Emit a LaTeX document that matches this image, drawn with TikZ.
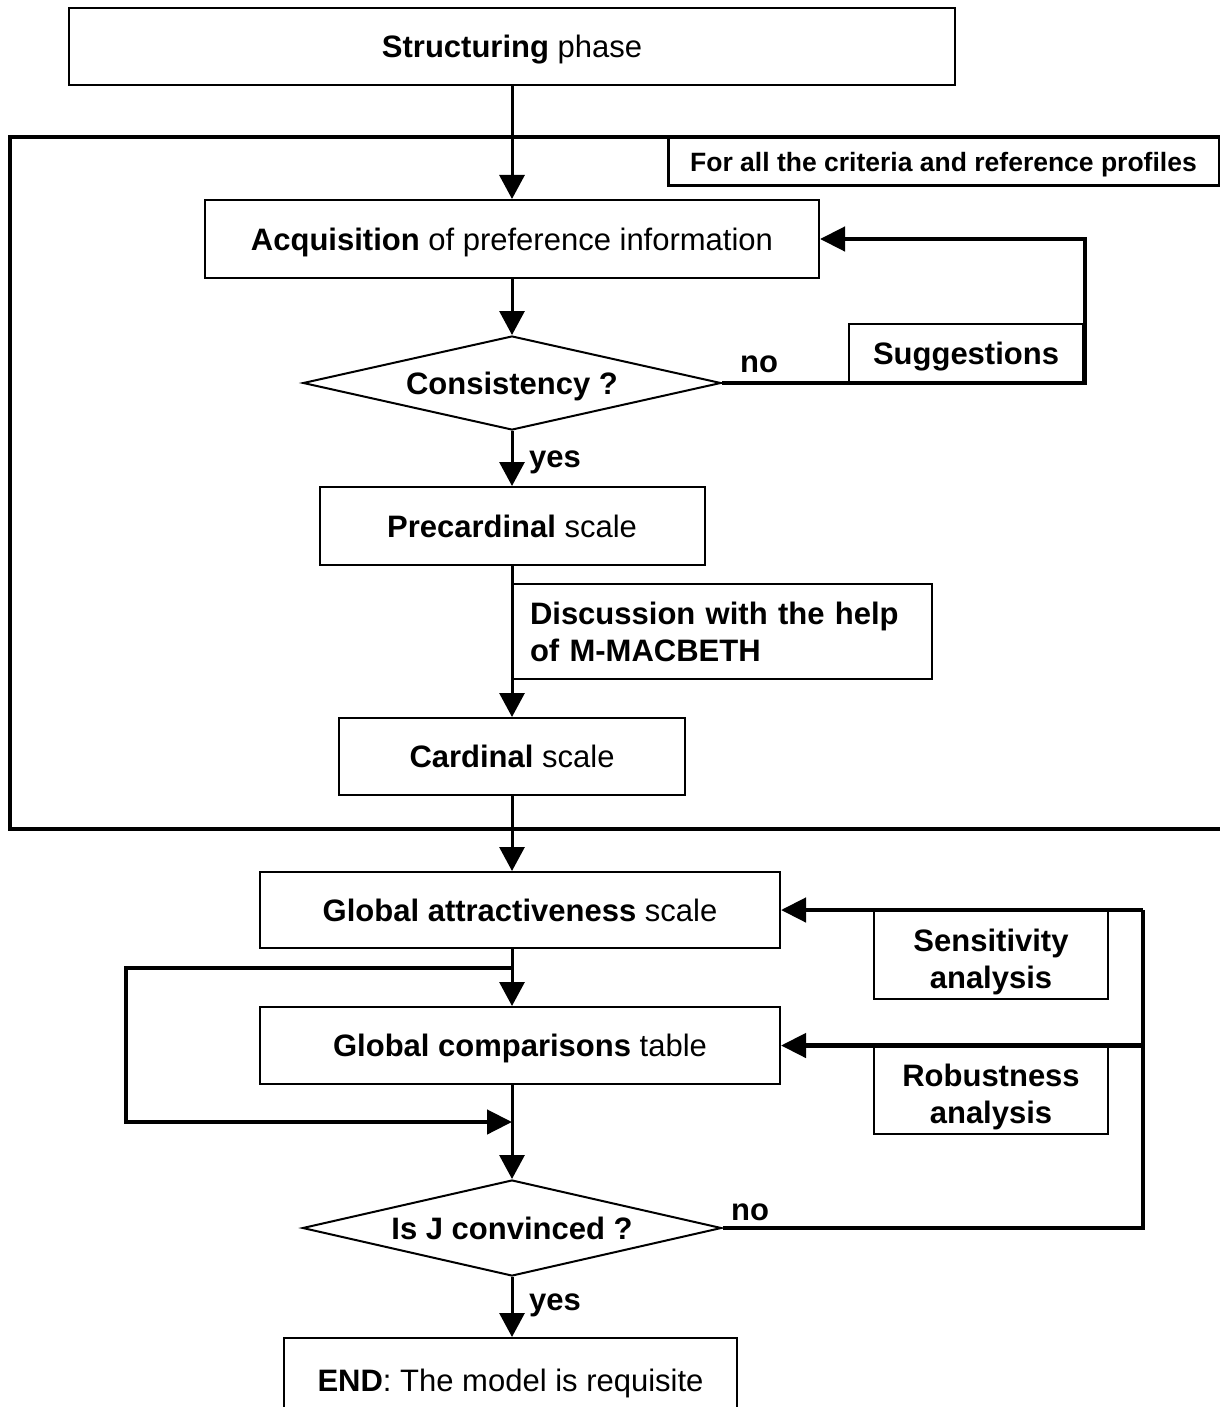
\documentclass[tikz,border=0pt]{standalone}
\usepackage{fontspec}
\setmainfont{Liberation Sans}
\usetikzlibrary{arrows.meta,shapes.geometric}
\tikzset{
  base/.style={draw, line width=2pt, inner sep=0pt, align=center, font=\fontsize{31}{37}\selectfont},
  box/.style={base, text depth=0pt},
  boldbox/.style={box, font=\fontsize{31}{37}\selectfont\bfseries},
  textbox/.style={base, font=\fontsize{31}{37}\selectfont\bfseries},
  dec/.style={draw, diamond, line width=2pt, inner sep=0pt, aspect=4.4, text depth=0pt, font=\fontsize{31}{37}\selectfont\bfseries},
  lab/.style={inner sep=0pt, font=\fontsize{31}{37}\selectfont\bfseries},
  flow/.style={line width=3pt, -{Triangle[length=24pt,width=25pt]}},
  fb/.style={line width=4.5pt},
  fbarr/.style={fb, -{Triangle[length=25pt,width=24pt]}},
}

\begin{document}
\begin{tikzpicture}[x=1pt, y=-1pt]
\useasboundingbox (0,0) rectangle (1219,1407);
\fill[white] (0,0) rectangle (1219,1407);

\node[box, minimum width=886pt, minimum height=77pt] (struct) at (512,46.5) {\textbf{Structuring} phase};
\draw[fb] (10,137) rectangle (1228,829);
\node[boldbox, line width=3pt, font=\fontsize{26.5}{30}\selectfont\bfseries, minimum width=551pt, minimum height=49pt] (crit) at (943.5,161.5) {For all the criteria and reference profiles};

\node[box, minimum width=614pt, minimum height=78pt] (acq) at (512,239) {\textbf{Acquisition} of preference information};
\node[dec, minimum width=418pt, minimum height=94pt] (cons) at (512,383) {Consistency ?};
\node[boldbox, minimum width=234pt, minimum height=59pt] (sugg) at (966,353.5) {Suggestions};
\node[box, minimum width=385pt, minimum height=78pt] (pre) at (512,526) {\textbf{Precardinal} scale};
\node[textbox, anchor=west, align=left, text width=385pt, inner xsep=17pt, minimum width=419pt, minimum height=95pt] (disc) at (512,631.5) {Discussion with the help\\of M-MACBETH};
\node[box, minimum width=346pt, minimum height=77pt] (card) at (512,756.5) {\textbf{Cardinal} scale};

\node[box, minimum width=520pt, minimum height=76pt] (ga) at (520,910) {\textbf{Global attractiveness} scale};
\node[textbox, minimum width=234pt, minimum height=89pt] (sens) at (991,954.5) {\rule{0pt}{37pt}Sensitivity\\analysis};
\node[box, minimum width=520pt, minimum height=77pt] (gc) at (520,1045.5) {\textbf{Global comparisons} table};
\node[textbox, minimum width=234pt, minimum height=88pt] (rob) at (991,1090) {\rule{0pt}{37pt}Robustness\\analysis};
\node[dec, minimum width=419pt, minimum height=96pt] (isj) at (512,1228) {Is J convinced ?};
\node[box, minimum width=453pt, minimum height=84pt] (end) at (510.5,1380) {\textbf{END}: The model is requisite};

\node[lab, anchor=west] (no1) at (740,364) {no};
\node[lab, anchor=west] (yes1) at (529,462) {yes};
\node[lab, anchor=west] (no2) at (731,1212) {no};
\node[lab, anchor=west] (yes2) at (529,1305) {yes};

\coordinate (cA) at (1085,239);
\coordinate (cR1) at (1143,910);
\coordinate (cR2) at (1143,1045.5);
\coordinate (split) at (512,968);
\coordinate (cL) at (126,968);
\coordinate (join) at (512,1122);

\draw[flow] (struct.south) -- (acq.north);
\draw[flow] (acq.south) -- (cons.north);
\draw[flow] (cons.south) -- (pre.north);
\draw[flow] (pre.south) -- (card.north);
\draw[flow] (card.south) -- (card.south |- ga.north);
\draw[flow] (ga.south -| card.south) -- (card.south |- gc.north);
\draw[flow] (gc.south -| card.south) -- (isj.north);
\draw[flow] (isj.south) -- (end.north -| isj.south);

\draw[fbarr] (cons.east) -| (cA) -- (acq.east);
\draw[fb] (isj.east) -| (cR1);
\draw[fbarr] (cR1) -- (ga.east);
\draw[fbarr] (cR2) -- (gc.east);
\draw[fbarr] (split) -- (cL) |- (join);
\end{tikzpicture}
\end{document}
